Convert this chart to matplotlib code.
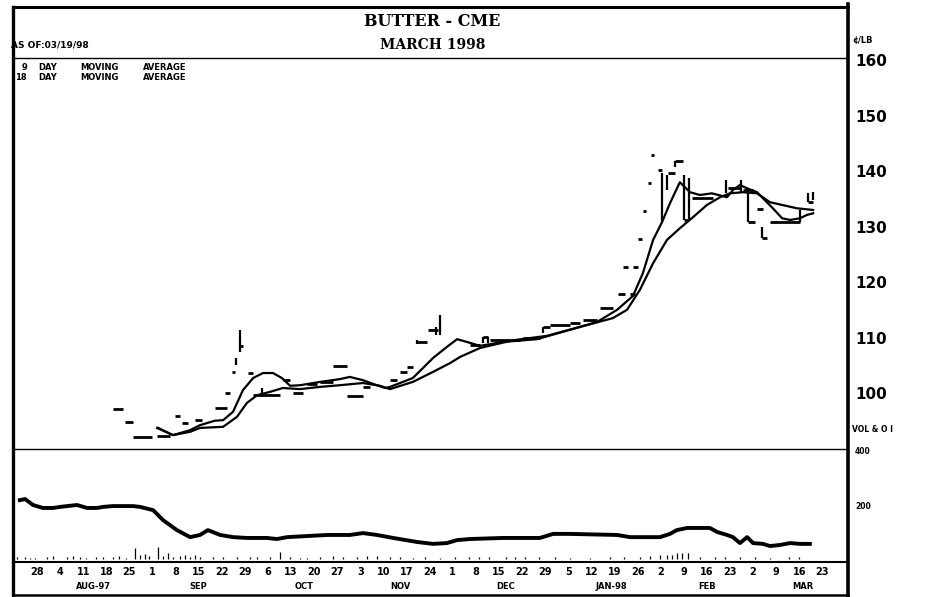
import matplotlib
matplotlib.use("Agg")
import numpy as np
import matplotlib.pyplot as plt

# x values are calendar days counted from Monday 28-Jul-1997
tick_labels = ["28", "4", "11", "18", "25", "1", "8", "15", "22", "29", "6", "13", "20", "27",
               "3", "10", "17", "24", "1", "8", "15", "22", "29", "5", "12", "19", "26",
               "2", "9", "16", "23", "2", "9", "16", "23"]
month_names = ["AUG-97", "SEP", "OCT", "NOV", "DEC", "JAN-98", "FEB", "MAR"]
month_day = [17, 49, 81, 110, 142, 174, 203, 232]

price_ticks = [100, 110, 120, 130, 140, 150, 160]
vol_ticks = [200, 400]

# 9 day moving average
ma9_day = [36.7, 41.2, 46.4, 49.4, 53.9, 56.4, 59.4, 62.4, 65.5, 68.5, 71.5, 74.2, 76.7, 79.7,
           85.8, 91.8, 94.8, 98.8, 103.0, 105.5, 107.0, 113.9, 120.0, 124.2, 127.3, 130.3,
           134.2, 141.2, 151.5, 161.5, 169.7, 175.8, 180.6, 183.6, 186.7, 189.4, 191.8, 194.8,
           197.9, 200.9, 204.5, 209.1, 210.9, 213.0, 215.2, 218.2, 220.0, 223.0, 225.8, 228.2,
           231.2, 233.3, 235.2]
ma9_val = [93.7, 92.4, 93.3, 94.2, 95.0, 95.1, 96.6, 100.5, 102.7, 103.6, 103.6, 102.7, 101.3,
           101.4, 102.0, 102.5, 102.9, 102.3, 101.4, 100.9, 101.1, 102.7, 106.3, 108.3, 109.7,
           109.2, 108.5, 109.2, 109.7, 111.4, 112.8, 115.0, 117.5, 121.6, 127.6, 130.8, 134.2,
           138.0, 136.2, 135.7, 136.0, 135.3, 136.6, 137.5, 136.9, 136.2, 135.1, 133.3, 131.5,
           131.2, 131.5, 132.1, 132.4]

# 18 day moving average
ma18_day = [36.4, 41.2, 46.4, 49.4, 56.4, 60.6, 63.6, 66.7, 70.6, 74.5, 79.7, 85.8, 91.8, 98.8,
            103.9, 107.0, 113.9, 120.0, 125.2, 128.2, 134.2, 144.2, 154.5, 167.6, 174.5, 178.8,
            182.7, 186.7, 190.9, 194.8, 198.8, 203.0, 207.0, 210.0, 213.9, 218.2, 222.1, 230.3,
            235.2]
ma18_val = [93.7, 92.4, 93.0, 93.7, 93.9, 95.7, 98.2, 99.6, 100.2, 100.9, 100.7, 101.1, 101.4,
            101.8, 101.3, 100.7, 102.0, 103.8, 105.4, 106.5, 108.1, 109.5, 110.3, 112.4, 113.5,
            115.0, 118.6, 123.4, 127.6, 129.7, 131.7, 133.9, 135.3, 136.0, 136.2, 136.0, 134.4,
            133.3, 133.0]

# price prints: (first day, last day, price)
price_runs = [(23.0, 26.1, 97.1), (26.7, 29.1, 94.8), (29.1, 34.8, 92.1), (36.4, 40.3, 92.3),
              (41.8, 43.3, 95.9), (43.9, 45.8, 94.6), (47.9, 50.0, 95.2), (53.9, 57.6, 97.3),
              (57.0, 58.5, 100.0), (59.1, 60.0, 103.8), (61.5, 62.4, 108.5), (63.9, 65.5, 103.6),
              (65.5, 73.6, 99.6), (74.5, 76.7, 102.3), (77.6, 80.6, 100.0), (81.8, 84.8, 101.6),
              (85.8, 89.7, 102.0), (89.7, 93.9, 104.9), (93.9, 98.8, 99.4), (98.8, 100.9, 101.1),
              (107.0, 109.1, 102.3), (110.0, 112.1, 103.8), (112.1, 113.9, 104.7),
              (115.2, 118.2, 109.2), (118.5, 121.5, 111.4), (131.2, 134.2, 108.6),
              (135.2, 136.7, 110.1), (137.3, 146.4, 109.5), (147.3, 152.4, 109.9),
              (153.3, 155.5, 111.9), (155.5, 161.5, 112.3), (161.5, 164.5, 112.6),
              (165.5, 169.7, 113.2), (170.6, 174.5, 115.3), (176.1, 178.2, 117.8),
              (179.7, 181.2, 117.8), (177.6, 179.1, 122.7), (180.6, 182.1, 122.7),
              (182.1, 183.3, 127.7), (183.6, 184.5, 132.8), (185.2, 186.1, 137.8),
              (186.1, 187.0, 142.9), (188.2, 189.4, 140.2), (191.2, 193.3, 139.6),
              (193.3, 195.8, 141.8), (196.1, 197.6, 131.2), (198.5, 204.8, 135.1),
              (209.4, 213.0, 136.9), (213.9, 217.0, 136.6), (215.5, 217.6, 130.8),
              (218.2, 220.0, 133.2), (219.7, 221.2, 127.9), (222.1, 231.2, 130.8),
              (233.6, 235.2, 134.4)]

# daily ranges: (day, low, high)
price_ranges = [(60.3, 105.0, 106.3), (61.5, 107.4, 111.4), (68.2, 99.3, 100.9),
                (115.2, 108.9, 109.5), (120.9, 110.5, 111.9), (122.1, 110.5, 114.1),
                (135.2, 109.0, 110.1), (136.7, 109.0, 110.1), (153.3, 110.8, 111.9),
                (189.4, 130.8, 139.6), (190.9, 136.6, 139.3), (193.3, 140.7, 141.8),
                (196.1, 131.2, 139.3), (197.6, 131.2, 138.7), (208.8, 136.0, 138.4),
                (213.3, 136.0, 138.4), (215.5, 130.8, 136.6), (219.7, 127.9, 130.0),
                (231.2, 130.8, 133.0), (233.6, 134.4, 136.0), (235.2, 134.8, 136.2)]

# open interest
oi_day = [-5.2, -3.6, -1.2, 1.8, 4.8, 7.0, 12.1, 15.2, 18.2, 20.0, 23.0, 29.1, 31.2, 35.2, 38.2,
          42.4, 46.4, 49.4, 51.8, 55.5, 59.4, 63.6, 69.7, 72.7, 75.8, 81.8, 87.9, 94.8, 98.8,
          103.0, 107.9, 115.2, 120.0, 124.2, 127.3, 131.2, 141.2, 152.4, 156.4, 161.5, 175.8,
          179.7, 188.8, 191.8, 193.9, 197.0, 203.9, 206.1, 209.1, 210.9, 213.0, 215.2, 217.0,
          220.0, 222.1, 225.2, 228.2, 231.2, 234.2]
oi_val = [218, 222, 200, 189, 189, 193, 200, 189, 189, 193, 196, 196, 193, 181, 144, 107, 81, 89,
          107, 89, 81, 78, 78, 74, 81, 85, 89, 89, 96, 89, 78, 63, 56, 59, 70, 74, 78, 78, 93, 93,
          89, 81, 81, 93, 107, 115, 115, 100, 89, 81, 59, 81, 59, 56, 48, 52, 59, 56, 56]

# volume
vol_day = [-6, -3.6, -2, -0.6, 3, 5, 9, 11, 13, 15, 18, 20, 23, 25, 27, 29.7, 31.2, 32.7, 34,
           36.7, 38.2, 39.7, 41.2, 43.3, 44.8, 46.4, 48, 49.4, 53.3, 56.4, 60.6, 64.5, 66.7,
           70.6, 73.6, 76.7, 79.7, 81.8, 85.8, 89.7, 92.7, 97, 100, 103, 107, 110, 114, 117.6,
           122, 126.7, 131, 134, 137, 142, 145, 148, 152, 157, 161.5, 167.6, 173.6, 178, 182.7,
           185.8, 188.8, 191, 192.4, 194, 195.5, 197.3, 200.9, 205.5, 208.5, 213, 217.6, 222,
           228, 231]
vol_val = [8, 6, 5, 4, 6, 10, 8, 12, 6, 5, 6, 8, 6, 10, 5, 40, 14, 18, 10, 44, 12, 22, 8, 10, 14,
           8, 16, 6, 6, 8, 8, 6, 8, 6, 26, 6, 5, 5, 6, 12, 6, 8, 12, 10, 6, 6, 5, 6, 5, 6, 6, 8,
           6, 8, 6, 8, 6, 6, 5, 5, 6, 6, 8, 10, 14, 16, 14, 22, 22, 22, 6, 8, 6, 8, 6, 5, 8, 6]

W, H = 948, 597
fig = plt.figure(figsize=(W / 100, H / 100), dpi=100)

# page frame, drawn in pixel units
bg = fig.add_axes([0, 0, 1, 1])
bg.set_xlim(0, W)
bg.set_ylim(H, 0)
bg.axis("off")
bg.plot([13, 13], [7, 595], color="k", lw=2.4)
bg.plot([13, 848], [7, 7], color="k", lw=2.2)
bg.plot([13, 848], [595, 595], color="k", lw=1.8)
bg.plot([848, 848], [4, 597], color="k", lw=2.6)
bg.plot([13, 848], [58, 58], color="k", lw=1.0)
bg.plot([13, 848], [449, 449], color="k", lw=1.0)
bg.plot([13, 848], [562, 562], color="k", lw=1.5)

bg.text(432, 22, "BUTTER - CME", ha="center", va="center", fontsize=11.5,
        fontweight="bold", family="DejaVu Serif")
bg.text(433, 45, "MARCH 1998", ha="center", va="center", fontsize=10,
        fontweight="bold", family="DejaVu Serif")
bg.text(11, 45, "AS OF:03/19/98", ha="left", va="center", fontsize=6.5, fontweight="bold")
for y, words in [(67, ["9", "DAY", "MOVING", "AVERAGE"]), (77, ["18", "DAY", "MOVING", "AVERAGE"])]:
    xs = [22 if words[0] == "9" else 15, 38, 80, 143]
    for x, w in zip(xs, words):
        bg.text(x, y, w, ha="left", va="center", fontsize=6, fontweight="bold")
bg.text(852, 40, "¢/LB", ha="left", va="center", fontsize=6, fontweight="bold")
bg.text(852, 430, "VOL & O I", ha="left", va="center", fontsize=5.5, fontweight="bold")

xlo, xhi = -7.27, 245.76

# price panel
pax = fig.add_axes([13 / W, 1 - 449 / H, 835 / W, 391 / H])
pax.patch.set_alpha(0)
for s in pax.spines.values():
    s.set_visible(False)
pax.set_xlim(xlo, xhi)
pax.set_ylim(89.9, 160.4)
pax.set_xticks([])
pax.yaxis.tick_right()
pax.set_yticks(price_ticks)
pax.set_yticklabels([str(v) for v in price_ticks], fontsize=11, fontweight="bold")
pax.tick_params(axis="y", direction="in", length=0, pad=5)

pax.hlines([r[2] for r in price_runs], [r[0] for r in price_runs], [r[1] for r in price_runs],
           color="k", lw=2.0)
pax.vlines([r[0] for r in price_ranges], [r[1] for r in price_ranges],
           [r[2] for r in price_ranges], color="k", lw=1.6)
pax.plot(ma9_day, ma9_val, color="k", lw=1.6)
pax.plot(ma18_day, ma18_val, color="k", lw=1.6)

# volume / open interest panel
vax = fig.add_axes([13 / W, 1 - 562 / H, 835 / W, 113 / H])
vax.patch.set_alpha(0)
for s in vax.spines.values():
    s.set_visible(False)
vax.set_xlim(xlo, xhi)
vax.set_ylim(-11.1, 407.4)
vax.yaxis.tick_right()
vax.set_yticks(vol_ticks)
vax.set_yticklabels([str(v) for v in vol_ticks], fontsize=5.5, fontweight="bold")
vax.tick_params(axis="y", direction="in", length=0, pad=5)
vax.set_xticks(np.arange(len(tick_labels)) * 7)
vax.set_xticklabels(tick_labels, fontsize=7, fontweight="bold")
vax.tick_params(axis="x", length=0, pad=3.5)

vax.vlines(vol_day, 0, vol_val, color="k", lw=0.9)
vax.plot(oi_day, oi_val, color="k", lw=2.8, solid_joinstyle="round")

for d, m in zip(month_day, month_names):
    vax.text(d, -0.215, m, transform=vax.get_xaxis_transform(), ha="center", va="center",
             fontsize=6, fontweight="bold")

fig.savefig("out.png", dpi=100)
